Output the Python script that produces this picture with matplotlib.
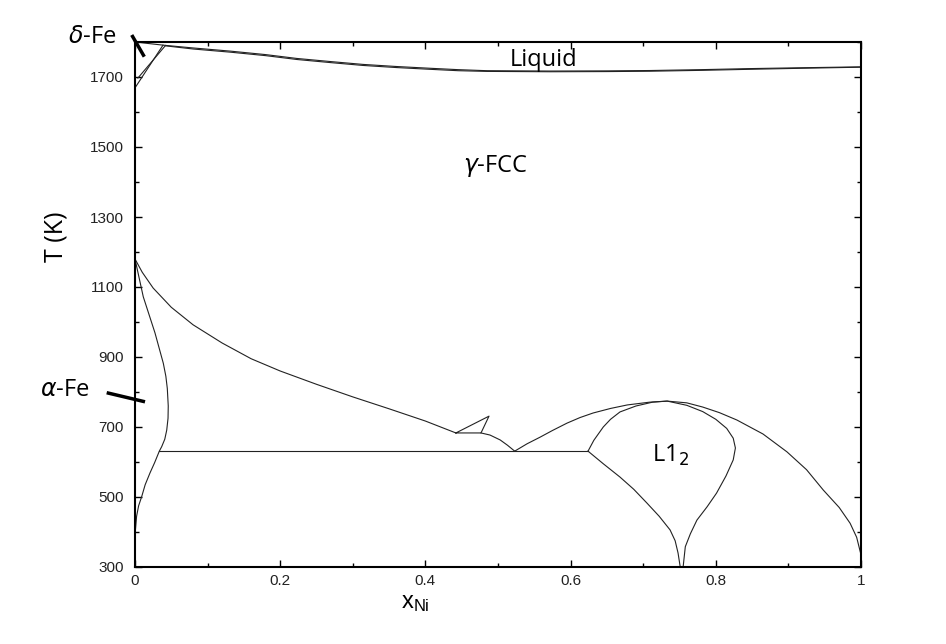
import matplotlib
matplotlib.use("Agg")
import matplotlib.pyplot as plt
from matplotlib.ticker import MultipleLocator

# Fe-Ni phase diagram, boundaries (x_Ni, T in K)
liq_x = [0.0, 0.0386, 0.08, 0.131, 0.18, 0.223, 0.27, 0.314, 0.36, 0.406, 0.445,
         0.485, 0.572, 0.65, 0.709, 0.78, 0.847, 0.92, 1.0]
liq_T = [1800, 1791, 1783, 1774, 1764, 1753, 1744, 1736, 1730, 1725, 1721,
         1718, 1717, 1717.5, 1718.5, 1721, 1724, 1726.5, 1729]
sol_x = [0.042, 0.08, 0.131, 0.18, 0.223, 0.27, 0.314, 0.36, 0.406, 0.445,
         0.485, 0.572, 0.65, 0.709, 0.78, 0.847, 0.92, 1.0]
sol_T = [1789, 1780, 1771, 1761, 1750, 1741, 1733, 1727, 1722, 1718,
         1716, 1715, 1715.5, 1716.5, 1719, 1722, 1725, 1728]

delta1_x = [0.0, 0.0386]
delta1_T = [1669, 1791]
delta2_x = [0.004, 0.042]
delta2_T = [1697, 1790]

# alpha / (alpha+gamma)
alpha_x = [0.0, 0.0114, 0.0275, 0.039, 0.0425, 0.0445, 0.0458, 0.0455, 0.0437,
           0.041, 0.0368, 0.0335, 0.027, 0.0207, 0.014, 0.0092, 0.0050, 0.0022,
           0.0006, 0.0]
alpha_T = [1180, 1072, 969, 882, 845, 810, 760, 725, 691,
           665, 644, 631, 598, 569, 535, 501, 475, 445,
           406, 350]

# gamma / (alpha+gamma)
gam_x = [0.0, 0.01, 0.025, 0.05, 0.08, 0.12, 0.16, 0.2, 0.25, 0.3, 0.35, 0.4, 0.442]
gam_T = [1180, 1142, 1097, 1042, 992, 940, 895, 860, 822, 786, 752, 717, 683]

tri_x = [0.442, 0.4766, 0.4876, 0.442]
tri_T = [683, 683, 731, 683]

vleft_x = [0.4766, 0.489, 0.503, 0.513, 0.523]
vleft_T = [683, 677, 663, 648, 631]

eut_x = [0.0335, 0.624]
eut_T = [631, 631]

# gamma / (gamma+L12), outer dome
outer_x = [0.523, 0.54, 0.558, 0.575, 0.595, 0.613, 0.631, 0.655, 0.678, 0.709,
           0.733, 0.76, 0.782, 0.805, 0.829, 0.865, 0.898, 0.925, 0.948, 0.97,
           0.985, 0.994, 1.0]
outer_T = [631, 652, 671, 690, 711, 727, 740, 753, 763, 771,
           774, 769, 757, 741, 720, 680, 629, 578, 520, 470,
           425, 385, 335]

# L12 boundary, inner dome
inner_x = [0.624, 0.632, 0.645, 0.655, 0.668, 0.69, 0.713, 0.733, 0.76, 0.782,
           0.80, 0.815, 0.824, 0.827, 0.824, 0.814, 0.801, 0.788, 0.774, 0.765,
           0.758, 0.755]
inner_T = [631, 662, 700, 722, 743, 760, 771, 774, 762, 744,
           722, 696, 668, 640, 606, 560, 511, 472, 434, 395,
           358, 300]

low_x = [0.624, 0.645, 0.668, 0.687, 0.705, 0.722, 0.737, 0.744, 0.748, 0.751]
low_T = [631, 595, 557, 522, 483, 445, 406, 375, 340, 300]

xtick_labels = ['0', '0.2', '0.4', '0.6', '0.8', '1']

plt.rcParams['font.family'] = ['Open Sans', 'DejaVu Sans']
plt.rcParams['mathtext.fontset'] = 'dejavusans'

fig = plt.figure(figsize=(9.46, 6.44), dpi=100)
ax = fig.add_axes([135/946, 1-567/644, 726/946, 525/644])

lc = '#222222'
lw = 0.8
for xs, ts in [(liq_x, liq_T), (sol_x, sol_T), (delta1_x, delta1_T), (delta2_x, delta2_T),
               (alpha_x, alpha_T), (gam_x, gam_T), (tri_x, tri_T), (vleft_x, vleft_T),
               (eut_x, eut_T), (outer_x, outer_T), (inner_x, inner_T), (low_x, low_T)]:
    ax.plot(xs, ts, color=lc, lw=lw)

ax.set_xlim(0, 1)
ax.set_ylim(300, 1800)
ax.xaxis.set_minor_locator(MultipleLocator(0.1))
ax.yaxis.set_minor_locator(MultipleLocator(100))
ax.set_yticks(range(300, 1701, 200))
ax.set_xticks([0, 0.2, 0.4, 0.6, 0.8, 1.0])
ax.set_xticklabels(xtick_labels)
ax.tick_params(which='both', direction='in', top=True, right=True, colors='black',
               labelcolor='#222222', labelsize=11)
ax.tick_params(which='major', length=5, width=1)
ax.tick_params(which='minor', length=3, width=1)
ax.tick_params(axis='x', pad=5)
ax.tick_params(axis='y', pad=8)
for lab in ax.get_xticklabels() + ax.get_yticklabels():
    lab.set_family(['Liberation Sans Narrow', 'Liberation Sans', 'DejaVu Sans'])
for s in ax.spines.values():
    s.set_linewidth(1.5)

# labels
fig.text(56/946, 1-237/644, 'T (K)', rotation=90, ha='center', va='center', fontsize=18)
fig.text(415/946, 1-603/644, r'$\mathregular{x_{Ni}}$', ha='center', va='center',
         fontsize=17, family=['Liberation Sans Narrow', 'Liberation Sans'])

ax.text(0.563, 1748, 'Liquid', ha='center', va='center', fontsize=17)
ax.text(0.496, 1445, r'$\gamma$-FCC', ha='center', va='center', fontsize=17)
ax.text(0.738, 620, r'L1$_2$', ha='center', va='center', fontsize=17)

fig.text(92/946, 1-37/644, r'$\delta$-Fe', ha='center', va='center', fontsize=17)
fig.text(65/946, 1-390/644, r'$\alpha$-Fe', ha='center', va='center', fontsize=17)

# pointer bars
ax.plot([-0.0045, 0.0128], [1820, 1758], color='black', lw=2.5, clip_on=False,
        solid_capstyle='butt')
ax.plot([-0.039, 0.0138], [798, 772], color='black', lw=2.5, clip_on=False,
        solid_capstyle='butt')

fig.savefig('out.png', dpi=100)
